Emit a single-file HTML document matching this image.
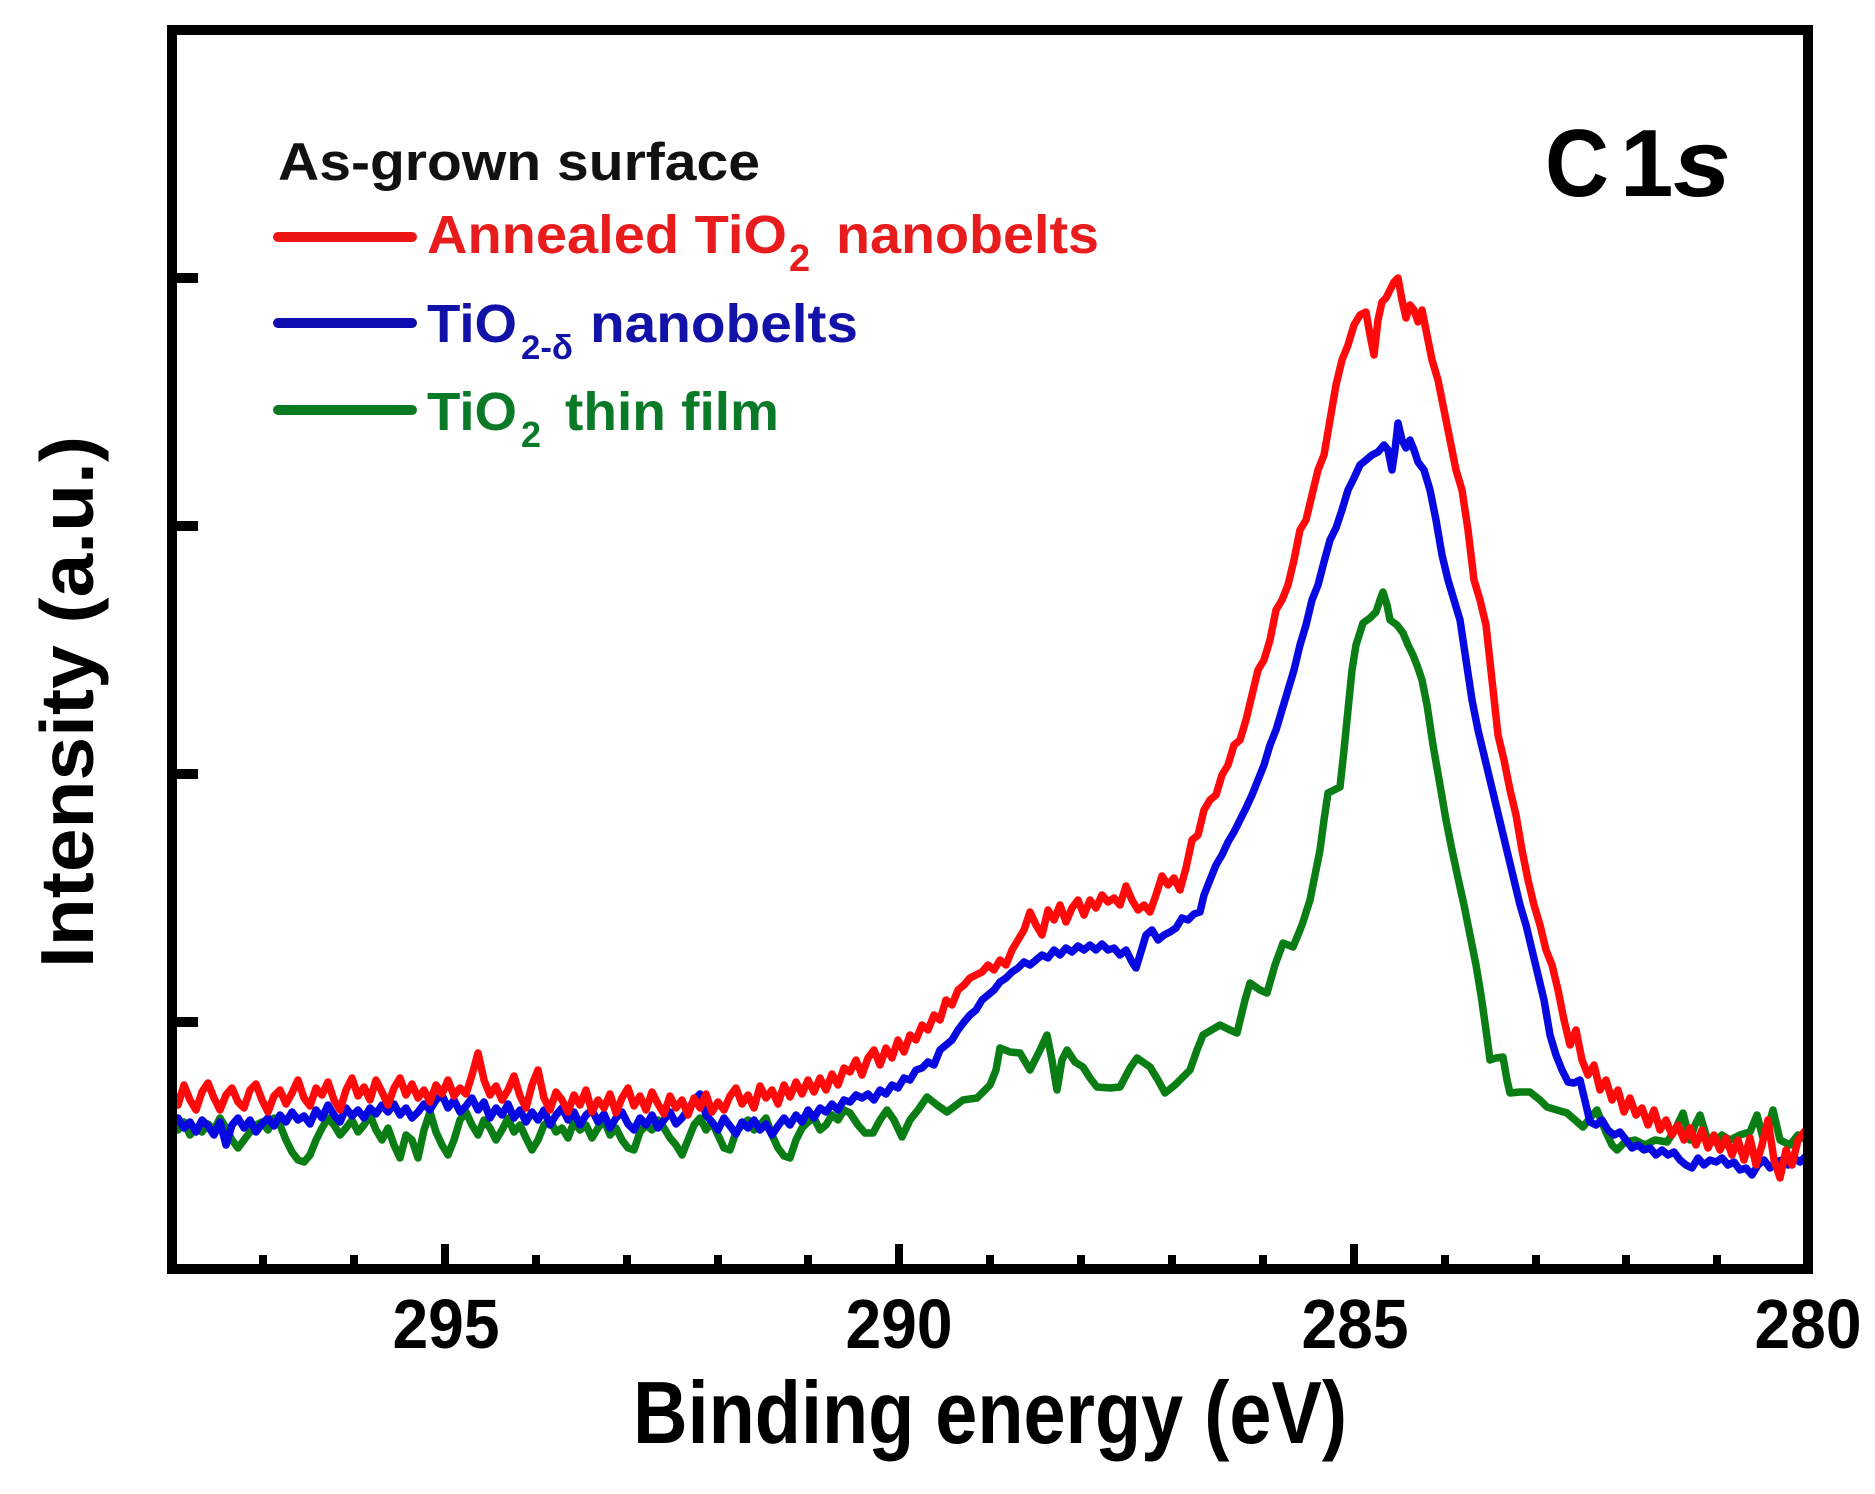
<!DOCTYPE html>
<html>
<head>
<meta charset="utf-8">
<style>
  html, body { margin:0; padding:0; background:#ffffff; }
  svg { display:block; }
  text { font-family: "Liberation Sans", Arial, sans-serif; font-weight: bold; }
</style>
</head>
<body>
<svg width="1875" height="1494" viewBox="0 0 1875 1494" xmlns="http://www.w3.org/2000/svg">
<rect x="0" y="0" width="1875" height="1494" fill="#ffffff"/>

<!-- curves -->
<g fill="none" stroke-width="7.5" stroke-linejoin="round" stroke-linecap="round">
<polyline stroke="#0a7d14" points="172,1125 178,1130 184,1122 190,1135 196,1128 202,1132 208,1124 214,1130 220,1118 226,1128 232,1140 238,1148 244,1140 250,1132 256,1125 262,1122 268,1130 274,1118 280,1125 286,1140 292,1152 298,1160 304,1162 310,1155 316,1140 322,1128 328,1118 334,1125 340,1135 346,1128 352,1120 358,1132 364,1125 370,1115 376,1130 382,1140 388,1128 394,1145 400,1158 406,1135 412,1140 418,1158 424,1130 430,1112 436,1132 442,1145 448,1155 454,1140 460,1120 466,1112 472,1125 478,1135 484,1120 490,1128 496,1140 502,1130 508,1118 514,1132 520,1125 526,1138 532,1150 538,1140 544,1125 550,1120 556,1132 562,1128 568,1138 574,1122 580,1130 586,1125 592,1138 598,1128 604,1120 610,1135 616,1128 622,1140 628,1148 634,1150 640,1132 646,1125 652,1130 658,1120 664,1128 670,1138 676,1145 682,1155 688,1140 694,1125 700,1118 706,1130 712,1122 718,1135 724,1148 730,1150 736,1132 742,1125 748,1120 754,1130 760,1125 766,1118 772,1135 778,1148 784,1156 790,1158 796,1140 802,1128 808,1122 814,1118 820,1130 826,1125 832,1115 838,1120 844,1110 850,1113 858,1125 865,1133 873,1133 880,1120 887,1110 894,1120 902,1137 910,1120 918,1110 927,1097 937,1105 947,1112 955,1106 963,1100 977,1098 990,1085 996,1070 1000,1048 1010,1052 1020,1053 1030,1070 1040,1050 1047,1035 1052,1060 1057,1090 1062,1060 1067,1050 1075,1062 1083,1067 1090,1078 1097,1087 1110,1088 1120,1087 1130,1068 1137,1058 1150,1067 1158,1080 1165,1093 1175,1085 1190,1070 1197,1050 1203,1035 1220,1025 1230,1030 1237,1033 1245,1000 1250,983 1260,990 1267,993 1275,965 1283,943 1293,947 1302,925 1310,900 1316,870 1320,850 1324,820 1328,793 1340,787 1344,750 1348,710 1352,670 1356,645 1363,623 1370,618 1376,612 1380,600 1383,592 1387,605 1390,620 1397,625 1403,633 1408,645 1413,655 1418,668 1422,680 1427,705 1433,745 1440,785 1446,820 1452,850 1458,878 1464,905 1470,935 1476,965 1481,995 1486,1030 1490,1060 1496,1058 1503,1057 1507,1080 1510,1093 1520,1092 1530,1092 1540,1100 1547,1107 1557,1110 1567,1113 1575,1120 1583,1127 1590,1118 1597,1110 1605,1130 1612,1145 1617,1150 1625,1142 1635,1140 1645,1145 1655,1140 1667,1142 1675,1130 1683,1113 1690,1140 1695,1125 1700,1115 1707,1138 1715,1142 1722,1135 1730,1140 1740,1135 1750,1132 1757,1115 1763,1138 1768,1128 1773,1110 1780,1140 1790,1145 1798,1135 1806,1140"/>
<polyline stroke="#0808e0" points="172,1125 178,1118 184,1128 190,1122 196,1132 202,1120 208,1126 214,1135 220,1122 226,1145 232,1125 238,1118 244,1128 250,1120 256,1132 262,1124 268,1118 274,1126 280,1115 286,1122 292,1112 298,1120 304,1116 310,1124 316,1110 322,1118 328,1105 334,1115 340,1122 346,1108 352,1116 358,1110 364,1118 370,1108 376,1114 382,1105 388,1112 394,1104 400,1115 406,1108 412,1118 418,1112 424,1104 430,1110 436,1100 442,1095 448,1108 454,1100 460,1112 466,1106 472,1098 478,1110 484,1102 490,1118 496,1108 502,1115 508,1104 514,1118 520,1110 526,1122 532,1112 538,1120 544,1110 550,1125 556,1115 562,1108 568,1120 574,1112 580,1125 586,1115 592,1110 598,1122 604,1114 610,1128 616,1118 622,1112 628,1124 634,1130 640,1118 646,1125 652,1115 658,1128 664,1120 670,1112 676,1124 682,1118 688,1110 694,1100 700,1094 706,1115 712,1122 718,1130 724,1118 730,1126 736,1134 742,1122 748,1128 754,1120 760,1130 766,1124 772,1135 778,1126 784,1118 790,1125 796,1115 802,1122 808,1110 814,1118 820,1108 826,1112 832,1104 838,1110 844,1100 850,1102 856,1095 862,1098 868,1094 874,1100 880,1090 886,1094 892,1085 898,1088 904,1078 910,1080 916,1070 922,1068 928,1062 934,1065 940,1050 946,1045 952,1040 958,1030 964,1022 970,1015 976,1010 982,1000 988,995 994,990 1000,982 1006,978 1012,972 1018,968 1024,962 1030,965 1036,960 1042,955 1048,958 1054,950 1060,955 1066,948 1072,952 1078,946 1084,950 1090,945 1096,950 1102,944 1108,950 1114,948 1120,955 1126,950 1132,962 1136,968 1140,955 1146,935 1152,930 1158,940 1164,935 1170,932 1176,928 1182,918 1188,920 1194,914 1200,912 1204,895 1210,880 1216,865 1222,855 1228,842 1234,832 1240,820 1246,808 1252,795 1258,780 1264,765 1270,745 1276,730 1282,710 1288,690 1294,670 1300,645 1306,625 1312,600 1318,585 1324,562 1330,540 1336,528 1342,510 1348,490 1354,478 1360,465 1366,460 1372,455 1378,452 1384,445 1388,450 1392,470 1395,450 1398,423 1402,440 1406,448 1410,440 1414,450 1418,462 1424,470 1430,490 1436,520 1442,555 1448,580 1454,600 1460,620 1466,660 1472,700 1478,730 1484,755 1490,780 1496,805 1502,830 1508,855 1514,880 1520,905 1526,925 1532,950 1538,975 1544,1000 1550,1035 1556,1055 1562,1070 1568,1082 1574,1083 1580,1080 1586,1105 1590,1122 1596,1125 1602,1120 1608,1130 1614,1135 1620,1132 1626,1140 1632,1148 1638,1145 1644,1150 1650,1148 1656,1155 1662,1150 1668,1155 1674,1152 1680,1160 1686,1165 1692,1168 1698,1158 1704,1165 1710,1160 1716,1162 1722,1158 1728,1165 1734,1162 1740,1170 1746,1168 1752,1175 1758,1165 1764,1160 1770,1168 1776,1162 1782,1160 1788,1165 1794,1158 1800,1162 1806,1156"/>
<polyline stroke="#ff0a0a" points="172,1090 178,1105 184,1085 190,1100 196,1110 202,1092 208,1083 214,1098 220,1110 226,1095 232,1088 238,1102 244,1108 250,1090 256,1084 262,1100 268,1112 274,1096 280,1090 286,1104 292,1093 298,1080 304,1098 310,1106 316,1088 322,1095 328,1082 334,1100 340,1110 346,1090 352,1078 358,1096 364,1087 370,1100 376,1080 382,1092 388,1105 394,1088 400,1078 406,1095 412,1084 418,1098 424,1090 430,1102 436,1085 442,1094 448,1080 454,1096 460,1088 466,1094 472,1075 478,1053 484,1080 490,1095 496,1086 502,1100 508,1090 514,1076 520,1096 526,1108 532,1085 538,1070 544,1098 550,1110 556,1092 562,1100 568,1112 574,1095 580,1105 586,1090 592,1112 598,1100 604,1108 610,1094 616,1113 622,1098 628,1088 634,1106 640,1096 646,1110 652,1092 658,1104 664,1114 670,1096 676,1108 682,1100 688,1115 694,1098 700,1108 706,1094 712,1112 718,1102 724,1110 730,1096 736,1088 742,1104 748,1095 754,1108 760,1086 766,1098 772,1090 778,1104 784,1085 790,1097 796,1082 802,1094 808,1080 814,1092 820,1078 826,1090 832,1074 838,1085 844,1068 850,1072 856,1060 862,1075 868,1058 874,1050 880,1065 886,1048 892,1058 898,1040 904,1052 910,1035 916,1040 922,1025 928,1030 934,1015 940,1020 946,1000 952,1005 958,990 964,985 970,978 976,975 982,972 988,965 994,970 1000,960 1006,965 1012,950 1018,940 1024,930 1030,912 1036,925 1042,935 1048,910 1054,920 1060,905 1066,922 1072,908 1078,900 1084,915 1090,900 1096,908 1102,895 1108,902 1114,898 1120,905 1126,886 1132,900 1138,910 1144,905 1150,912 1156,895 1162,876 1168,885 1174,878 1180,890 1186,868 1192,840 1198,835 1204,810 1210,800 1216,795 1222,775 1228,765 1234,745 1240,740 1246,720 1252,695 1258,670 1264,660 1270,640 1276,610 1282,600 1288,585 1294,560 1300,530 1306,520 1312,495 1318,470 1324,455 1330,420 1336,385 1342,360 1348,345 1354,325 1360,315 1366,312 1370,335 1374,355 1378,320 1382,302 1386,298 1390,290 1394,282 1398,278 1402,300 1406,318 1410,305 1414,310 1418,322 1422,310 1426,330 1432,360 1438,380 1444,410 1450,440 1456,470 1462,490 1468,530 1474,580 1480,600 1486,625 1492,680 1498,735 1504,760 1510,790 1516,815 1522,850 1528,880 1534,905 1540,925 1546,950 1552,965 1558,990 1564,1020 1570,1045 1576,1030 1582,1060 1588,1075 1594,1065 1600,1090 1606,1080 1612,1100 1618,1090 1624,1112 1630,1098 1636,1115 1642,1108 1648,1125 1654,1110 1660,1130 1666,1120 1672,1135 1678,1125 1684,1140 1690,1128 1696,1145 1702,1130 1708,1148 1714,1135 1720,1150 1726,1138 1732,1155 1738,1140 1744,1160 1750,1138 1756,1165 1762,1145 1768,1120 1774,1160 1780,1178 1786,1150 1792,1165 1798,1140 1804,1132 1806,1130"/>
</g>

<!-- axes frame -->
<rect x="172" y="30" width="1636" height="1239" fill="none" stroke="#000" stroke-width="10"/>

<!-- y ticks -->
<g fill="#000">
<rect x="176" y="273" width="22" height="10"/>
<rect x="176" y="521" width="22" height="10"/>
<rect x="176" y="769" width="22" height="10"/>
<rect x="176" y="1017" width="22" height="10"/>
</g>

<!-- x ticks -->
<g fill="#000">
<rect x="259" y="1255" width="8" height="12"/>
<rect x="350" y="1255" width="8" height="12"/>
<rect x="441" y="1244" width="8" height="23"/>
<rect x="532" y="1255" width="8" height="12"/>
<rect x="623" y="1255" width="8" height="12"/>
<rect x="714" y="1255" width="8" height="12"/>
<rect x="804" y="1255" width="8" height="12"/>
<rect x="895" y="1244" width="8" height="23"/>
<rect x="986" y="1255" width="8" height="12"/>
<rect x="1077" y="1255" width="8" height="12"/>
<rect x="1168" y="1255" width="8" height="12"/>
<rect x="1259" y="1255" width="8" height="12"/>
<rect x="1350" y="1244" width="8" height="23"/>
<rect x="1441" y="1255" width="8" height="12"/>
<rect x="1532" y="1255" width="8" height="12"/>
<rect x="1622" y="1255" width="8" height="12"/>
<rect x="1713" y="1255" width="8" height="12"/>
</g>

<!-- x tick labels -->
<g font-size="70" fill="#000" text-anchor="middle">
<text x="446" y="1348" textLength="107" lengthAdjust="spacingAndGlyphs">295</text>
<text x="899" y="1348" textLength="107" lengthAdjust="spacingAndGlyphs">290</text>
<text x="1355" y="1348" textLength="107" lengthAdjust="spacingAndGlyphs">285</text>
<text x="1808" y="1348" textLength="107" lengthAdjust="spacingAndGlyphs">280</text>
</g>

<!-- axis titles -->
<text x="633" y="1443" font-size="88" fill="#000" textLength="714" lengthAdjust="spacingAndGlyphs">Binding energy (eV)</text>
<text transform="translate(93,702) rotate(-90)" x="0" y="0" text-anchor="middle" font-size="75" fill="#000" textLength="532" lengthAdjust="spacingAndGlyphs">Intensity (a.u.)</text>

<!-- C 1s -->
<text x="1545" y="196" font-size="96" fill="#000" textLength="64" lengthAdjust="spacingAndGlyphs">C</text>
<text x="1620" y="196" font-size="96" fill="#000">1</text>
<text x="1673" y="196" font-size="96" font-style="italic" fill="#000" textLength="58" lengthAdjust="spacingAndGlyphs">s</text>

<!-- legend -->
<text x="278" y="180" font-size="53" fill="#111" textLength="482" lengthAdjust="spacingAndGlyphs">As-grown surface</text>

<line x1="278" y1="237" x2="412" y2="237" stroke="#ee1515" stroke-width="10" stroke-linecap="round"/>
<text x="427" y="253" font-size="54" fill="#e81c1c" textLength="360" lengthAdjust="spacingAndGlyphs">Annealed TiO</text>
<text x="789" y="271" font-size="38" fill="#e81c1c">2</text>
<text x="836" y="253" font-size="54" fill="#e81c1c" textLength="263" lengthAdjust="spacingAndGlyphs">nanobelts</text>

<line x1="278" y1="323" x2="412" y2="323" stroke="#0c0cb0" stroke-width="10" stroke-linecap="round"/>
<text x="427" y="342" font-size="54" fill="#1212a8" textLength="90" lengthAdjust="spacingAndGlyphs">TiO</text>
<text x="521" y="359" font-size="34" fill="#1212a8" textLength="52" lengthAdjust="spacingAndGlyphs">2-δ</text>
<text x="590" y="342" font-size="54" fill="#1212a8" textLength="268" lengthAdjust="spacingAndGlyphs">nanobelts</text>

<line x1="278" y1="410" x2="412" y2="410" stroke="#0a7a22" stroke-width="10" stroke-linecap="round"/>
<text x="427" y="430" font-size="54" fill="#0a7a28" textLength="90" lengthAdjust="spacingAndGlyphs">TiO</text>
<text x="521" y="447" font-size="36" fill="#0a7a28">2</text>
<text x="565" y="430" font-size="54" fill="#0a7a28" textLength="214" lengthAdjust="spacingAndGlyphs">thin film</text>
</svg>
</body>
</html>
